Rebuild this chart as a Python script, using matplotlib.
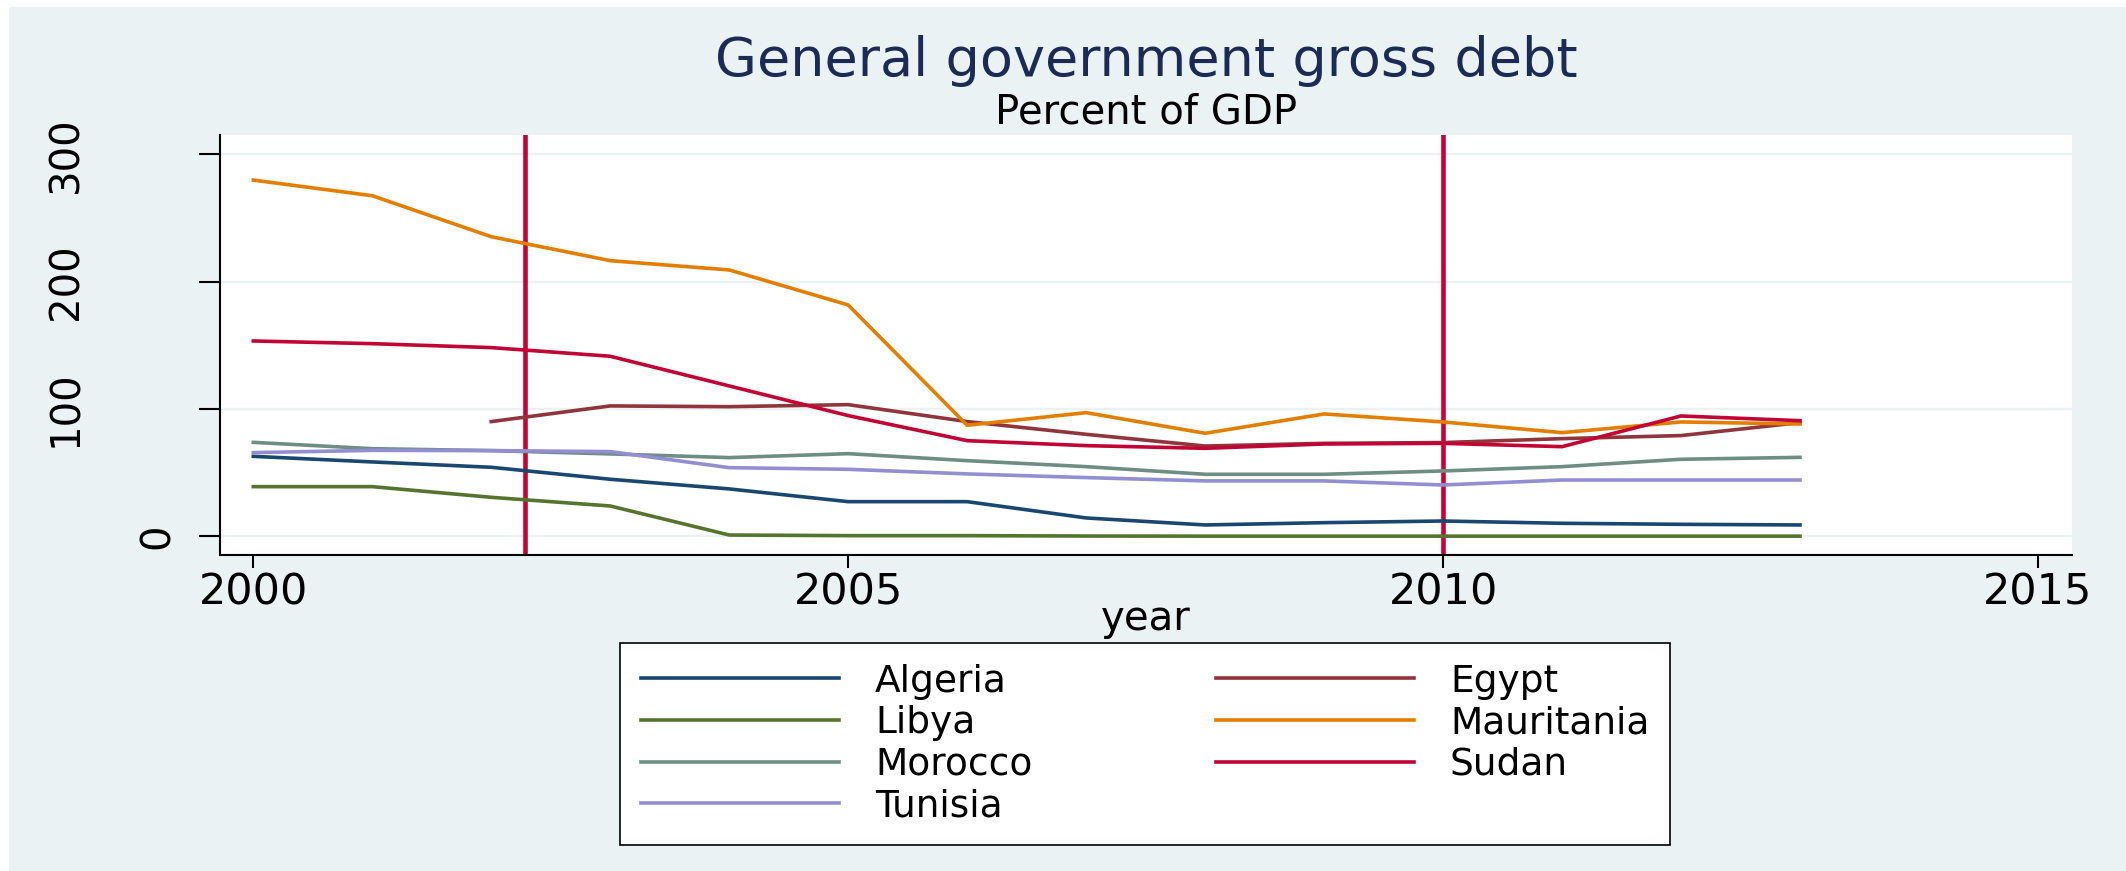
import matplotlib.pyplot as plt
import matplotlib.transforms as mtransforms
from matplotlib.patches import Rectangle

# ---- data: general government gross debt, % of GDP ----
NAN = float("nan")
YEARS = list(range(2000, 2014))
COUNTRIES = ["Algeria", "Egypt", "Libya", "Mauritania", "Morocco", "Sudan", "Tunisia"]
ALGERIA = [62.8, 58.4, 54.2, 44.8, 37.2, 27.2, 27.2, 14.4, 8.9, 10.7, 12.0, 10.2, 9.4, 8.9]
EGYPT = [NAN, NAN, 90.1, 102.4, 101.8, 103.4, 90.1, 80.1, 70.9, 73.0, 73.6, 76.7, 79.1, 89.3]
LIBYA = [39.0, 39.0, 30.6, 23.8, 1.0, 0.5, 0.5, 0.2, 0.1, 0.1, 0.1, 0.1, 0.1, 0.1]
MAURITANIA = [279.8, 267.5, 235.3, 216.5, 209.2, 181.7, 87.2, 97.1, 80.9, 96.1, 89.8, 81.4, 89.8, 88.2]
MOROCCO = [73.8, 68.8, 67.3, 64.7, 61.8, 64.9, 59.4, 54.7, 48.7, 48.7, 51.3, 54.7, 60.5, 62.0]
SUDAN = [153.4, 151.3, 148.2, 141.4, 118.1, 94.8, 75.1, 71.2, 69.1, 72.5, 73.0, 70.4, 94.5, 90.8]
TUNISIA = [65.7, 67.5, 67.3, 66.5, 53.9, 52.6, 49.0, 46.1, 43.5, 43.5, 40.3, 44.2, 44.2, 44.2]
SERIES = [ALGERIA, EGYPT, LIBYA, MAURITANIA, MOROCCO, SUDAN, TUNISIA]

EVENT_YEARS = [2002.28, 2010]
X_TICKS = [2000, 2005, 2010, 2015]
X_TICK_LABELS = ["2000", "2005", "2010", "2015"]
Y_TICKS = [0, 100, 200, 300]
Y_TICK_LABELS = ["0", "100", "200", "300"]

# stata s2color palette
COLORS = ["#1A476F", "#90353B", "#55752F", "#E37E00", "#6E8E84", "#C10534", "#938DD2"]
BG = "#EAF2F3"
EVENT_COLOR = "#C10534"

W, H = 2126, 871
fig = plt.figure(figsize=(W / 100, H / 100), dpi=100, facecolor="white")
fig.patches.append(Rectangle((9 / W, 0), 1, 1 - 7 / H, transform=fig.transFigure,
                             facecolor=BG, edgecolor="none", zorder=-10))

ax = fig.add_axes([220 / W, 1 - 555 / H, (2072 - 220) / W, (555 - 135) / H])
ax.set_facecolor("white")

for yv in Y_TICKS:
    ax.axhline(yv, color=BG, lw=1.7, zorder=1)
for xv in EVENT_YEARS:
    ax.axvline(xv, color=EVENT_COLOR, lw=3.3, zorder=1.5)

lines = {}
for name, vals, col in zip(COUNTRIES, SERIES, COLORS):
    (ln,) = ax.plot(YEARS, vals, color=col, lw=2.6, label=name, zorder=2)
    lines[name] = ln

ax.set_xlim(1999.72, 2015.286)
ax.set_ylim(-14.7, 315.2)

for side in ["top", "right"]:
    ax.spines[side].set_visible(False)
for side in ["left", "bottom"]:
    ax.spines[side].set_color("black")
    ax.spines[side].set_linewidth(1.5)

ax.set_xticks(X_TICKS)
ax.set_xticklabels(X_TICK_LABELS, fontsize=31)
ax.tick_params(axis="x", direction="out", length=9, width=1.5, pad=3)
ax.set_yticks(Y_TICKS)
ax.tick_params(axis="y", direction="out", length=15, width=1.5, labelleft=False)

# rotated y labels, placed the way stata right-justifies them before turning
ylab_tr = mtransforms.blended_transform_factory(fig.transFigure, ax.transData)
for yv, lbl in zip(Y_TICKS, Y_TICK_LABELS):
    xc = 157.5 - 45.5 * (len(lbl) - 1)
    ax.text(xc / W, yv, lbl, transform=ylab_tr, rotation=90, fontsize=29,
            ha="center", va="center", rotation_mode="anchor")

ax.set_xlabel("year", fontsize=29)
ax.xaxis.set_label_coords(0.5, -(630 - 555) / 420)
ax.xaxis.label.set_va("baseline")

fig.text(1146 / W, 1 - 76 / H, "General government gross debt", fontsize=39,
         color="#1C2B55", ha="center", va="baseline")
fig.text(1146 / W, 1 - 123 / H, "Percent of GDP", fontsize=29,
         color="black", ha="center", va="baseline")

# two columns, filled row by row
order = ["Algeria", "Libya", "Morocco", "Tunisia", "Egypt", "Mauritania", "Sudan"]
leg = fig.legend([lines[n] for n in order], order, ncol=2, mode="expand",
                 loc="center", bbox_to_anchor=(620 / W, 1 - 835 / H, 1050 / W, 182 / H),
                 fontsize=27, handlelength=5.3, handletextpad=0.95, labelspacing=0.15,
                 borderpad=0.55, borderaxespad=0, frameon=True, fancybox=False,
                 edgecolor="black", facecolor="white", framealpha=1)
leg.get_frame().set_linewidth(1.2)

fig.savefig("out.png", dpi=100, facecolor=fig.get_facecolor())
